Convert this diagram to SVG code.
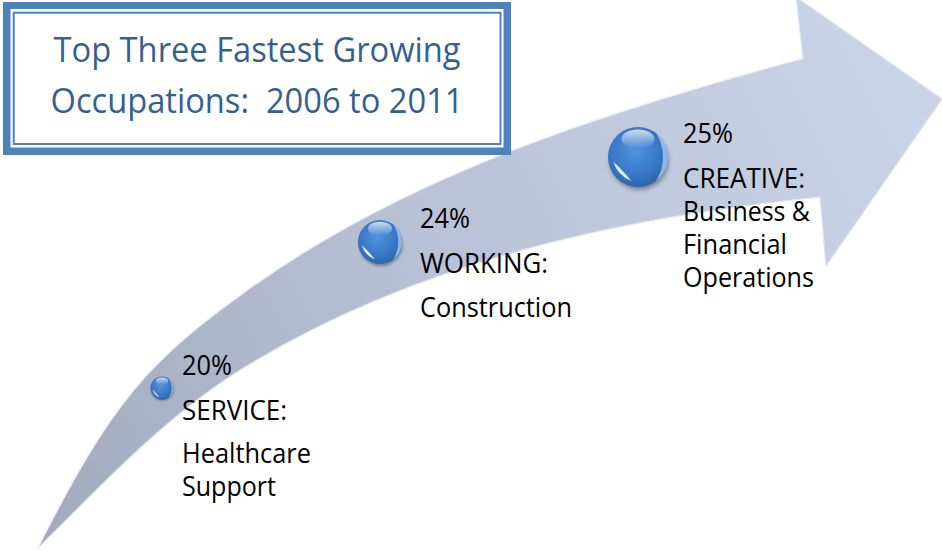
<svg xmlns="http://www.w3.org/2000/svg" width="942" height="554" viewBox="0 0 942 554">
<defs>
<style>
.lbl { font-family: "Open Sans", "Noto Sans", sans-serif; font-size: 26.5px; fill: #000000; }
.ttl { font-family: "Open Sans", "Noto Sans", sans-serif; font-size: 35px; fill: #365F91; text-anchor: middle; }
</style>
<linearGradient id="arrowFill" gradientUnits="userSpaceOnUse" x1="40" y1="550" x2="900" y2="120">
<stop offset="0" stop-color="#A2AABC"/>
<stop offset="0.5" stop-color="#B8C1D5"/>
<stop offset="1" stop-color="#C9D3E6"/>
</linearGradient>
<radialGradient id="orbFill" cx="0.45" cy="0.4" r="0.65">
<stop offset="0" stop-color="#4F93DF"/>
<stop offset="0.65" stop-color="#3876C4"/>
<stop offset="1" stop-color="#2B5FA6"/>
</radialGradient>
<linearGradient id="orbHi" x1="0" y1="0" x2="0" y2="1">
<stop offset="0" stop-color="#FFFFFF" stop-opacity="0.75"/>
<stop offset="1" stop-color="#FFFFFF" stop-opacity="0"/>
</linearGradient>
<filter id="soft" x="-50%" y="-50%" width="200%" height="200%">
<feGaussianBlur stdDeviation="0.07"/>
</filter>
<g id="orb">
<ellipse cx="0.04" cy="0.14" rx="0.98" ry="0.95" fill="#1E2B3C" opacity="0.45" filter="url(#soft)"/>
<circle r="1" fill="url(#orbFill)"/>
<ellipse cx="0" cy="-0.6" rx="0.55" ry="0.32" fill="url(#orbHi)"/>
<path d="M-0.82,0.15 Q-0.7,0.6 -0.22,0.8 Q-0.5,0.45 -0.82,0.15Z" fill="#FFFFFF" opacity="0.85"/>
<path d="M0.6,-0.8 A1,1 0 0 1 0.6,0.8 A1.5,1.5 0 0 0 0.6,-0.8Z" fill="#A9D1F7" opacity="0.75"/>
</g>
</defs>

<g id="arrow">
<path d="M37,549 C113,398 150,360 247,290 C409,173 610,110 803,58 L796,-3 L942,99 L826,266 L820,197 C621,217 421,261 250,364 C169,412 104,483 37,549 Z" fill="url(#arrowFill)" stroke="#DDE4F0" stroke-width="1.2" stroke-linejoin="round"/>
<path d="M37,549 C113,398 150,360 247,290 C409,173 610,110 803,58" fill="none" stroke="#FFFFFF" stroke-opacity="0.6" stroke-width="2"/>
</g>

<g id="title">
<rect x="3" y="2" width="508" height="153" fill="#4F81BD"/>
<rect x="10.5" y="9" width="493" height="138.5" fill="#FFFFFF"/>
<rect x="13.7" y="12.7" width="486.8" height="131.3" fill="none" stroke="#4F81BD" stroke-width="2"/>
<text class="ttl" x="257" y="62" textLength="407" lengthAdjust="spacingAndGlyphs">Top Three Fastest Growing</text>
<text class="ttl" x="257" y="113" textLength="413" lengthAdjust="spacingAndGlyphs" xml:space="preserve">Occupations:  2006 to 2011</text>
</g>

<g id="node-service">
<use href="#orb" transform="translate(162,388) scale(11.5)"/>
<text class="lbl" x="182" y="375" textLength="50" lengthAdjust="spacingAndGlyphs">20%</text>
<text class="lbl" x="182" y="420" textLength="105" lengthAdjust="spacingAndGlyphs">SERVICE:</text>
<text class="lbl" x="182" y="463" textLength="129" lengthAdjust="spacingAndGlyphs">Healthcare</text>
<text class="lbl" x="182" y="496" textLength="94" lengthAdjust="spacingAndGlyphs">Support</text>
</g>

<g id="node-working">
<use href="#orb" transform="translate(380,242) scale(22)"/>
<text class="lbl" x="420" y="228" textLength="50" lengthAdjust="spacingAndGlyphs">24%</text>
<text class="lbl" x="420" y="273" textLength="128" lengthAdjust="spacingAndGlyphs">WORKING:</text>
<text class="lbl" x="420" y="317" textLength="152" lengthAdjust="spacingAndGlyphs">Construction</text>
</g>

<g id="node-creative">
<use href="#orb" transform="translate(638,157) scale(30)"/>
<text class="lbl" x="683" y="143" textLength="50" lengthAdjust="spacingAndGlyphs">25%</text>
<text class="lbl" x="683" y="188" textLength="122" lengthAdjust="spacingAndGlyphs">CREATIVE:</text>
<text class="lbl" x="683" y="221" textLength="127" lengthAdjust="spacingAndGlyphs">Business &amp;</text>
<text class="lbl" x="683" y="254" textLength="104" lengthAdjust="spacingAndGlyphs">Financial</text>
<text class="lbl" x="683" y="287" textLength="131" lengthAdjust="spacingAndGlyphs">Operations</text>
</g>
</svg>
